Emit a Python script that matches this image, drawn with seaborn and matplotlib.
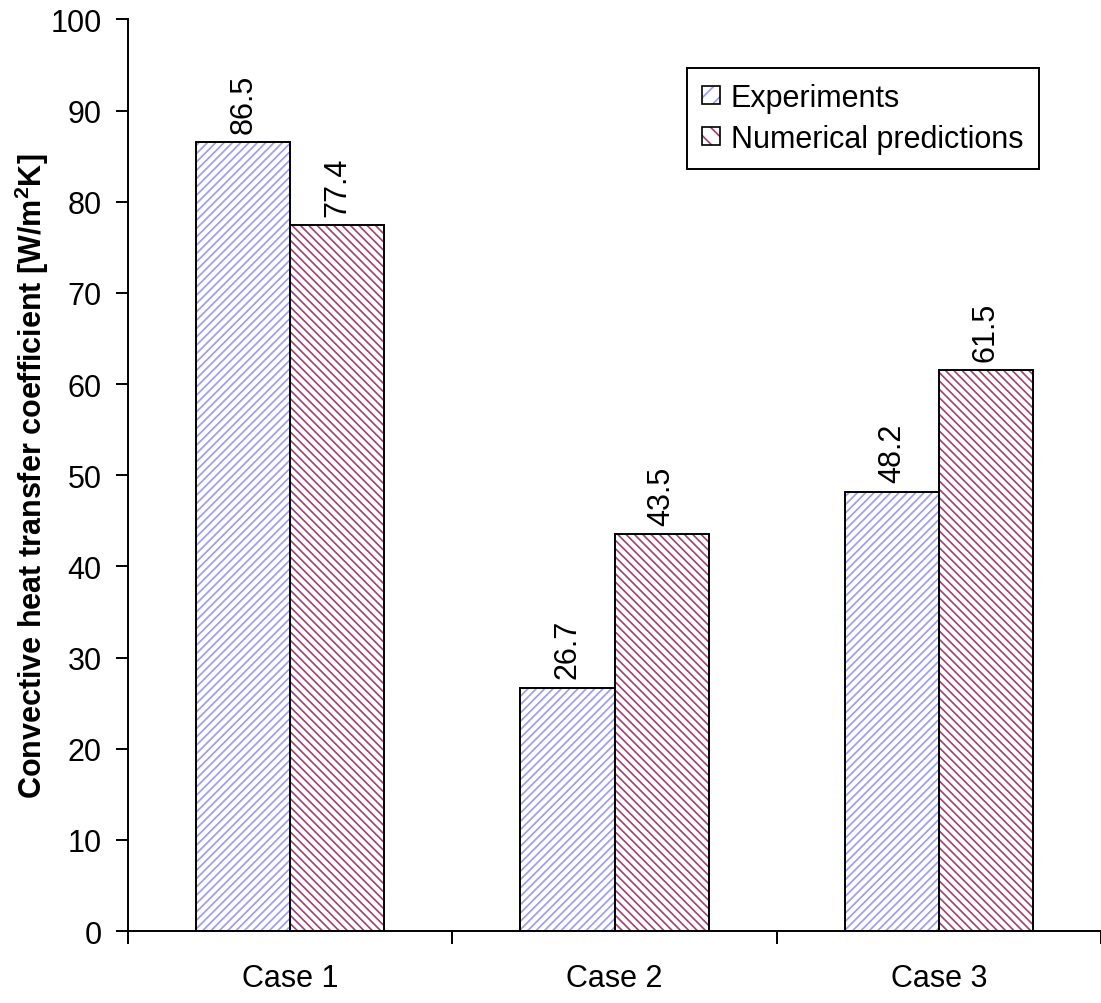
import matplotlib
matplotlib.use("Agg")
import matplotlib.pyplot as plt
import matplotlib.patches as mpatches
from matplotlib.legend_handler import HandlerTuple
import pandas as pd
import seaborn as sns

cases = ["Case 1", "Case 2", "Case 3"]
experiments = [86.5, 26.7, 48.2]
numerical = [77.4, 43.5, 61.5]
series_names = ["Experiments", "Numerical predictions"]

sns.set_style("white")
plt.rcParams["font.family"] = ["Liberation Sans", "DejaVu Sans"]
plt.rcParams["mathtext.fontset"] = "custom"
plt.rcParams["mathtext.bf"] = "Liberation Sans:bold"
plt.rcParams["mathtext.rm"] = "Liberation Sans"
plt.rcParams["mathtext.default"] = "bf"
plt.rcParams["hatch.linewidth"] = 1.2
plt.rcParams["text.color"] = "black"
plt.rcParams["xtick.color"] = "black"
plt.rcParams["ytick.color"] = "black"
plt.rcParams["axes.labelcolor"] = "black"

df = pd.DataFrame({
    "case": cases * 2,
    "value": experiments + numerical,
    "series": [series_names[0]] * 3 + [series_names[1]] * 3,
})

hatch_colors = ["#9999ff", "#a04070"]
hatches = ["////", "\\\\\\\\"]
fs = 22

fig = plt.figure(figsize=(11.01, 10.04), dpi=100)
ax = fig.add_axes([0.1163, 0.0717, 0.8837, 0.908])

sns.barplot(data=df, x="case", y="value", hue="series", width=0.58,
            palette=["white", "white"], ax=ax, legend=False)

for i, container in enumerate(ax.containers):
    for bar in container:
        bar.set_facecolor("white")
        bar.set_edgecolor(hatch_colors[i])
        bar.set_hatch(hatches[i])
        bar.set_linewidth(0)
        x, y = bar.get_xy()
        ax.add_patch(mpatches.Rectangle((x, y), bar.get_width(), bar.get_height(),
                                        fill=False, edgecolor="black", lw=1.4, zorder=3))
    labels = [f"{v:.1f}" for v in container.datavalues]
    ax.bar_label(container, labels=labels, rotation=90, padding=7, fontsize=fs)

ax.set_ylim(0, 100)
ax.set_xlim(-0.5, 2.5)
ax.set_yticks(range(0, 101, 10))
ax.set_xticks([-0.5, 0.5, 1.5, 2.5], minor=False)
ax.set_xticklabels([])
ax.set_xticks([0, 1, 2], minor=True)
ax.set_xticklabels(cases, minor=True)
ax.tick_params(axis="x", which="minor", length=0, labelsize=fs, pad=23)
ax.tick_params(axis="x", which="major", length=9, width=1.4, direction="out", bottom=True)
ax.tick_params(axis="y", length=9, width=1.4, direction="out", labelsize=fs, left=True, pad=10)

for side in ["top", "right"]:
    ax.spines[side].set_visible(False)
for side in ["left", "bottom"]:
    ax.spines[side].set_color("black")
    ax.spines[side].set_linewidth(1.4)

ax.set_xlabel("")
ax.set_ylabel(r"Convective heat transfer coefficient [W/m$^2$K]", fontsize=fs,
              fontweight="bold")
ax.yaxis.set_label_coords(-0.079, 0.5)

handles = []
for i in range(2):
    fill = mpatches.Patch(facecolor="white", edgecolor=hatch_colors[i], hatch=hatches[i][:2], lw=0)
    edge = mpatches.Patch(fill=False, edgecolor="black", lw=1.2)
    handles.append((fill, edge))
leg = ax.legend(handles, series_names, loc="upper right", bbox_to_anchor=(0.936, 0.947),
                borderaxespad=0, fontsize=fs, frameon=True, fancybox=False, edgecolor="black",
                handlelength=0.6, handleheight=0.5, handletextpad=0.35, borderpad=0.5,
                labelspacing=0.35, framealpha=1,
                handler_map={tuple: HandlerTuple(ndivide=1, pad=0)})
leg.get_frame().set_linewidth(1.4)

fig.savefig("out.png", dpi=100)
